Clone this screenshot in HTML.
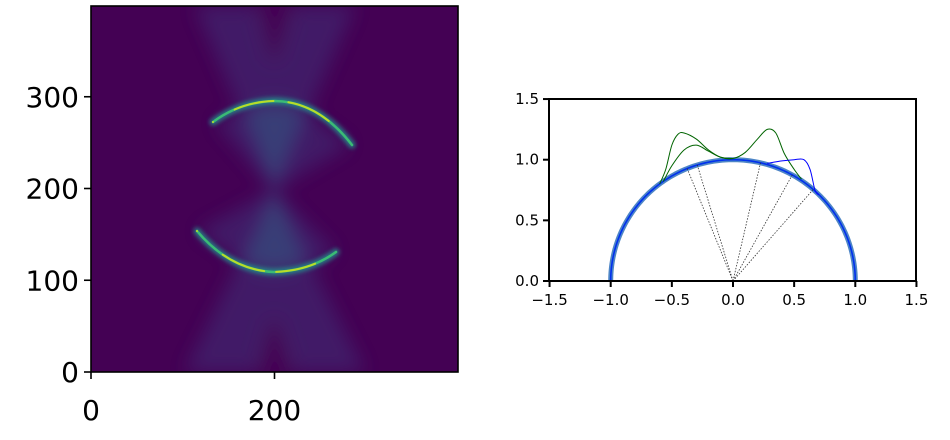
<!DOCTYPE html>
<html><head><meta charset="utf-8"><style>
body{margin:0;background:#fff;width:950px;height:435px;overflow:hidden}
svg text{font-family:"DejaVu Sans","Liberation Sans",sans-serif}
</style></head><body>
<svg id="s" width="950" height="435">
<defs>
<filter id="b6" x="-50%" y="-50%" width="200%" height="200%"><feGaussianBlur stdDeviation="9"/></filter>
<filter id="b2" x="-20%" y="-20%" width="140%" height="140%"><feGaussianBlur stdDeviation="2"/></filter>
<clipPath id="ic"><rect x="91" y="6" width="367" height="366"/></clipPath>
</defs>
<g clip-path="url(#ic)">
<rect x="91" y="6" width="367" height="366" fill="#440154"/>
<g filter="url(#b6)" opacity="0.6">
<polygon points="274,190 195,6 355,6" fill="#3e4a89" opacity="0.6"/>
<polygon points="274,190 185,372 365,372" fill="#3e4a89" opacity="0.6"/>
<polygon points="274,190 240,112 274,102 310,112" fill="#31688e"/>
<polygon points="274,190 240,262 274,272 310,262" fill="#31688e"/>
<polygon points="274,190 215,122 250,110" fill="#3e4a89" opacity="0.6"/>
<polygon points="274,190 300,108 350,145" fill="#3e4a89" opacity="0.6"/>
<polygon points="274,190 198,231 245,265" fill="#3e4a89" opacity="0.6"/>
<polygon points="274,190 305,268 336,252" fill="#3e4a89" opacity="0.6"/>
<polygon points="255,6 270,60 278,60 295,6" fill="#440154"/>
<polygon points="255,372 270,320 278,320 295,372" fill="#440154"/>
</g>
<g fill="none" stroke-linecap="round">
<path d="M213,122 Q240,102 274,101 Q318,101 352,145" stroke="#21918c" stroke-width="7" filter="url(#b2)" opacity="0.8"/>
<path d="M197,231 Q230,270 274,272 Q310,271 336,252" stroke="#21918c" stroke-width="7" filter="url(#b2)" opacity="0.8"/>
<path d="M213,122 Q240,102 274,101 Q318,101 352,145" stroke="#3bbb75" stroke-width="2.5"/>
<path d="M197,231 Q230,270 274,272 Q310,271 336,252" stroke="#3bbb75" stroke-width="2.5"/>
<path d="M213,122 Q240,102 274,101 Q318,101 352,145" stroke="#c8e020" stroke-width="2" stroke-dasharray="0,25,40,15,45,200" opacity="0.9"/>
<path d="M197,231 Q230,270 274,272 Q310,271 336,252" stroke="#c8e020" stroke-width="2" stroke-dasharray="0,35,45,12,40,200" opacity="0.9"/>
</g>
</g>
<rect x="91" y="6" width="367" height="366" fill="none" stroke="#000" stroke-width="1.6"/>
<g id="leftAxes"></g>
<g id="rightAxes"></g>
</svg>
<script>
const leftXTicks=[0,200];
const leftYTicks=[0,100,200,300];
const rightXTicks=[-1.5,-1.0,-0.5,0.0,0.5,1.0,1.5];
const rightYTicks=[0.0,0.5,1.0,1.5];
const green1X=[-0.6,-0.55,-0.5,-0.45,-0.4,-0.3,-0.2,-0.1,0,0.1,0.2,0.28,0.35,0.42,0.5,0.56];
const green1Y=[0.80,0.92,1.12,1.21,1.22,1.17,1.08,1.02,1.01,1.06,1.17,1.25,1.22,1.05,0.92,0.84];
const green2X=[-0.57,-0.5,-0.4,-0.3,-0.2,-0.1,0];
const green2Y=[0.82,0.95,1.08,1.12,1.07,1.02,1.01];
const blueX=[0.28,0.4,0.5,0.58,0.63,0.67,0.7];
const blueY=[0.97,0.99,1.0,1.0,0.92,0.75,0.71];
const rayAngles=[112,107,77,61,49];
const NS='http://www.w3.org/2000/svg';
function mk(tag,attrs,parent){const e=document.createElementNS(NS,tag);for(const k in attrs)e.setAttribute(k,attrs[k]);parent.appendChild(e);return e;}
const lx=v=>91+v*0.9175, ly=v=>372-v*0.9175;
const L=document.getElementById('leftAxes');
leftXTicks.forEach(t=>{const x=lx(t);
 const l=mk('line',{x1:x,x2:x,y1:372,y2:379,stroke:'#000','stroke-width':1.6},L);
 
 const tx=mk('text',{x:x,y:420,'font-size':28,'text-anchor':'middle'},L);tx.textContent=t;
 });
leftYTicks.forEach(t=>{const y=ly(t);
 const l=mk('line',{x1:84,x2:91,y1:y,y2:y,stroke:'#000','stroke-width':1.6},L);
 
 const tx=mk('text',{x:79,y:y+10,'font-size':28,'text-anchor':'end'},L);tx.textContent=t;
 });
const rx=v=>733+v*122.3, ry=v=>281-v*121.3;
const R=document.getElementById('rightAxes');
let d='';for(let i=0;i<=180;i++){const a=i*Math.PI/180;d+=(i?'L':'M')+rx(Math.cos(a))+','+ry(Math.sin(a));}
const c1=mk('path',{d:d,fill:'none',stroke:'#3a78c0','stroke-width':5,opacity:0.9},R);

const c2=mk('path',{d:d,fill:'none',stroke:'#0030ee','stroke-width':1.6},R);

rayAngles.forEach(a=>{const r=a*Math.PI/180;
 const l=mk('line',{x1:rx(0),y1:ry(0),x2:rx(Math.cos(r)),y2:ry(Math.sin(r)),stroke:'#333','stroke-width':0.8,'stroke-dasharray':'1.5,1.5'},R);
 });
function curve(xs,ys,col,name){
 const P=xs.map((x,i)=>[rx(x),ry(ys[i])]);
 let p='M'+P[0][0]+','+P[0][1];
 for(let i=0;i<P.length-1;i++){const p0=P[Math.max(0,i-1)],p1=P[i],p2=P[i+1],p3=P[Math.min(P.length-1,i+2)];
  p+='C'+(p1[0]+(p2[0]-p0[0])/6)+','+(p1[1]+(p2[1]-p0[1])/6)+' '+(p2[0]-(p3[0]-p1[0])/6)+','+(p2[1]-(p3[1]-p1[1])/6)+' '+p2[0]+','+p2[1];}
 const e=mk('path',{d:p,fill:'none',stroke:col,'stroke-width':1,'stroke-linejoin':'round'},R);
 }
curve(green1X,green1Y,'#006400','green-curve-outer');
curve(green2X,green2Y,'#006400','green-curve-inner');
curve(blueX,blueY,'#0000ff','blue-curve');
const fr=mk('rect',{x:549,y:99,width:367,height:182,fill:'none',stroke:'#000','stroke-width':2},R);

rightXTicks.forEach(t=>{const x=rx(t);
 const l=mk('line',{x1:x,x2:x,y1:281,y2:287,stroke:'#000','stroke-width':2},R);
 
 const tx=mk('text',{x:x,y:305,'font-size':15,'text-anchor':'middle'},R);tx.textContent=(t<0?'\u2212':'')+Math.abs(t).toFixed(1);
 });
rightYTicks.forEach(t=>{const y=ry(t);
 const l=mk('line',{x1:543,x2:549,y1:y,y2:y,stroke:'#000','stroke-width':2},R);
 
 const tx=mk('text',{x:539,y:y+5,'font-size':15,'text-anchor':'end'},R);tx.textContent=t.toFixed(1);
 });
</script>
</body></html>
